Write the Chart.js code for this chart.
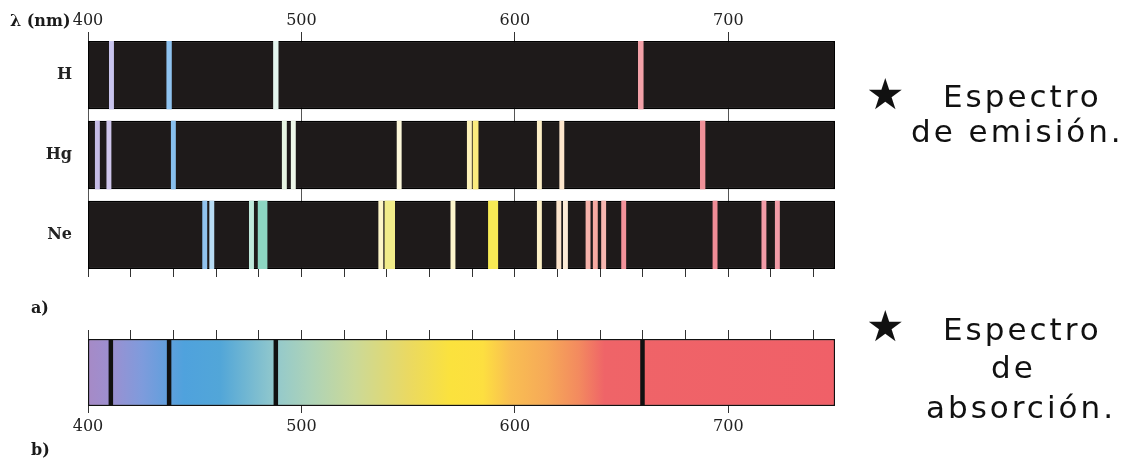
<!DOCTYPE html>
<html>
<head>
<meta charset="utf-8">
<script src="https://cdn.jsdelivr.net/npm/chart.js@4.4.1/dist/chart.umd.min.js"></script>
<style>
body { margin: 0; background: #fff; width: 1136px; height: 459px; overflow: hidden; position: relative; }
canvas { position: absolute; left: 0; }
#emission { top: 0; }
#absorption { top: 290px; }
.t { position: absolute; white-space: nowrap; line-height: 1; color: #1a1a1a; }
.lab { font-family: 'DejaVu Serif', serif; font-weight: bold; font-size: 16px; }
.s { font-family: 'DejaVu Sans', sans-serif; font-size: 31px; letter-spacing: 3px; color: #111; }
.star { font-family: 'DejaVu Sans', sans-serif; font-size: 43px; color: #111; }
</style>
</head>
<body>
<canvas id="emission" width="1136" height="290"></canvas>
<canvas id="absorption" width="1136" height="169"></canvas>

<div class="t lab" style="left:10px;top:13px">λ (nm)</div>
<div class="t lab" style="left:31px;top:300px">a)</div>
<div class="t lab" style="left:31px;top:442px">b)</div>

<div class="t star" style="left:866px;top:73px">★</div>
<div class="t s" style="left:943px;top:81px">Espectro</div>
<div class="t s" style="left:911px;top:116px">de emisión.</div>

<div class="t star" style="left:866px;top:305px">★</div>
<div class="t s" style="left:943px;top:314px">Espectro</div>
<div class="t s" style="left:991px;top:352px">de</div>
<div class="t s" style="left:926px;top:392px">absorción.</div>

<script>
// wavelengths in nm
const rows = ['H', 'Hg', 'Ne'];
const majorTicks = [400, 500, 600, 700];

const hLines = [411, 438, 488, 659];
const hWidths = [2.0, 2.2, 2.2, 2.3];
const hColors = ['#c9c4ee', '#8fc3f0', '#e4f5ee', '#f3a1a8'];

const hgLines = [404.4, 409.8, 440, 492, 496.2, 545.8, 578.7, 581.6, 611.5, 622, 688];
const hgWidths = [2, 2, 2, 2, 2, 2, 2, 2.4, 2, 2, 2.2];
const hgColors = ['#c6bce6', '#cfc6ec', '#87bfee', '#e6f4e2', '#eef8ea', '#fcf7da', '#fdf2b8', '#fbec7e', '#fdefc6', '#fde6cc', '#f09199'];

const neLines = [454.7, 458, 476.6, 481.8, 537.2, 541.4, 571, 589.8, 611.5, 620.6, 623.7, 634.3, 637.7, 641.6, 651, 693.8, 716.7, 723];
const neWidths = [2, 2, 2, 4.2, 2, 4.6, 2, 4.4, 2, 2, 2, 2, 2, 2, 2, 2, 2, 2];
const neColors = ['#90c2ee', '#b8dcf4', '#bfeadc', '#8dd6c2', '#fdf6c8', '#f1ec8a', '#fdf6cc', '#f7ea55', '#fdf0c6', '#fde5cc', '#fdebd6', '#f6b2aa', '#f7aaa2', '#f7b6b0', '#f3929a', '#f08c96', '#f39ca8', '#f39ca8'];

const absLines = [410.7, 438, 488, 659.8];
const absWidth = 1.8;

const gradWl = [400, 410, 425, 445, 462, 488, 505, 525, 550, 570, 585, 598, 615, 630, 642, 750];
const gradCol = ['#a68ac6', '#9d8fd0', '#7f9bdc', '#4fa2dd', '#52a6d8', '#93c9cc', '#aed3b7', '#cbd998', '#ead962', '#fbe23d', '#fddf40', '#f9be52', '#f6a958', '#f38a5f', '#ef6468', '#f06068'];

const serif = { family: 'DejaVu Serif', size: 16 };

function lineData(lines, widths, row) {
  return lines.map((w, i) => ({ x: [w - widths[i] / 2, w + widths[i] / 2], y: row }));
}

function axisX(opts) {
  return Object.assign({
    type: 'linear', min: 400, max: 750,
    border: { display: false },
    ticks: { stepSize: 20, includeBounds: false, display: false },
    grid: { drawOnChartArea: false, color: '#333', tickLength: 8, tickColor: '#333' }
  }, opts);
}

new Chart(document.getElementById('emission'), {
  type: 'bar',
  data: {
    datasets: [
      { data: lineData(hLines, hWidths, 0), backgroundColor: hColors, order: 1 },
      { data: lineData(hgLines, hgWidths, 1), backgroundColor: hgColors, order: 1 },
      { data: lineData(neLines, neWidths, 2), backgroundColor: neColors, order: 1 },
      {
        data: rows.map((r, i) => ({ x: [400, 750], y: i })),
        backgroundColor: '#1e1a1a', borderColor: '#000', borderWidth: 1.5, borderSkipped: false, order: 2
      }
    ]
  },
  options: {
    indexAxis: 'y',
    responsive: false,
    animation: false,
    layout: { padding: { left: 0, right: 301, top: 0, bottom: 0 } },
    datasets: { bar: { grouped: false, barThickness: 68, borderWidth: 0 } },
    plugins: { legend: { display: false }, tooltip: { enabled: false } },
    scales: {
      x: axisX({
        position: 'top',
        afterFit: s => { s.height = 41; },
        ticks: { stepSize: 100, includeBounds: false, padding: 1.5, color: '#222', font: serif },
        grid: { drawOnChartArea: true, color: '#555', tickColor: '#333', tickLength: 9 }
      }),
      x2: axisX({ position: 'bottom', afterFit: s => { s.height = 21; } }),
      y: {
        type: 'linear', min: -0.425, max: 2.425, reverse: true, offset: false,
        afterFit: s => { s.width = 88; },
        border: { display: false },
        grid: { display: false, offset: false },
        ticks: {
          stepSize: 1, includeBounds: false, padding: 8, color: '#222',
          font: { family: 'DejaVu Serif', size: 16, weight: 'bold' },
          callback: v => rows[v] || ''
        }
      }
    }
  }
});

new Chart(document.getElementById('absorption'), {
  type: 'bar',
  data: {
    datasets: [
      {
        data: absLines.map(w => ({ x: [w - absWidth / 2, w + absWidth / 2], y: 0 })),
        backgroundColor: '#111', order: 1
      },
      {
        data: [{ x: [400, 750], y: 0 }],
        backgroundColor: (c) => {
          const ch = c.chart;
          if (!ch.chartArea) return gradCol[0];
          const xs = ch.scales.x;
          const g = ch.ctx.createLinearGradient(xs.getPixelForValue(400), 0, xs.getPixelForValue(750), 0);
          gradWl.forEach((w, i) => g.addColorStop((w - 400) / 350, gradCol[i]));
          return g;
        },
        borderColor: '#111', borderWidth: 1.5, borderSkipped: false, order: 2
      }
    ]
  },
  options: {
    indexAxis: 'y',
    responsive: false,
    animation: false,
    layout: { padding: { left: 0, right: 301, top: 0, bottom: 0 } },
    datasets: { bar: { grouped: false, barThickness: 67, borderWidth: 0 } },
    plugins: { legend: { display: false }, tooltip: { enabled: false } },
    scales: {
      x: axisX({
        position: 'bottom',
        afterFit: s => { s.height = 53; },
        ticks: { stepSize: 100, includeBounds: false, padding: 4, color: '#222', font: serif },
        grid: { drawOnChartArea: false, color: '#333', tickColor: '#333', tickLength: 7 }
      }),
      x2: axisX({ position: 'top', afterFit: s => { s.height = 49; }, grid: { drawOnChartArea: false, tickColor: '#333', tickLength: 9 } }),
      y: {
        type: 'linear', min: -0.5, max: 0.5, offset: false,
        afterFit: s => { s.width = 88; },
        border: { display: false },
        grid: { display: false },
        ticks: { display: false }
      }
    }
  }
});
</script>
</body>
</html>
